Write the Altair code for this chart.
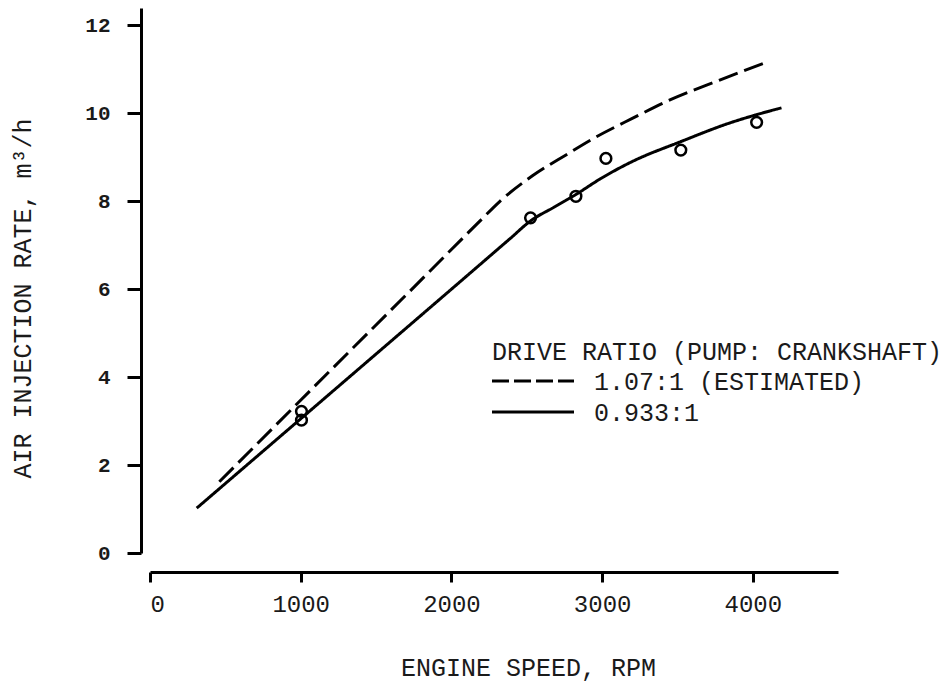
import altair as alt
import pandas as pd

# ---- data ----
solid_rpm = [310, 1200, 2390, 2525, 2680, 2830, 2985, 3200, 3520, 3850, 4030, 4190]
solid_rate = [1.02, 3.64, 7.15, 7.55, 7.86, 8.16, 8.50, 8.90, 9.35, 9.78, 9.97, 10.12]

dashed_rpm = [460, 1200, 1750, 2190, 2320, 2540, 2760, 2940, 3200, 3450, 3780, 4100]
dashed_rate = [1.62, 4.16, 6.04, 7.55, 7.99, 8.58, 9.05, 9.42, 9.88, 10.30, 10.75, 11.17]

obs_rpm = [1005, 1005, 2525, 2826, 3025, 3522, 4025]
obs_rate = [3.22, 3.02, 7.62, 8.11, 8.97, 9.16, 9.79]

series_names = ["1.07:1 (ESTIMATED)", "0.933:1"]
legend_title = "DRIVE RATIO (PUMP: CRANKSHAFT)"
x_ticks = [0, 1000, 2000, 3000, 4000]
y_ticks = [0, 2, 4, 6, 8, 10, 12]

FONT = "Liberation Mono"
INK = "#1a1a1a"

lines = pd.concat([
    pd.DataFrame({"rpm": dashed_rpm, "rate": dashed_rate, "ratio": series_names[0]}),
    pd.DataFrame({"rpm": solid_rpm, "rate": solid_rate, "ratio": series_names[1]}),
])
obs = pd.DataFrame({"rpm": obs_rpm, "rate": obs_rate})

x_scale = alt.Scale(domain=[0, 4565], nice=False, zero=False)
y_scale = alt.Scale(domain=[0, 12.39], nice=False, zero=False)
dash_scale = alt.Scale(domain=series_names, range=[[20, 7], [1, 0]])

x_axis = alt.Axis(
    values=x_ticks, format="d", grid=False, offset=19,
    domainColor="black", domainWidth=3, tickColor="black", tickWidth=3, tickSize=10,
    labelFont=FONT, labelFontSize=24, labelColor=INK, labelPadding=10,
    title="ENGINE SPEED, RPM", titleFont=FONT, titleFontSize=25, titleFontWeight="normal",
    titleColor=INK, titleX=378, titleY=95, titleAlign="center", titleBaseline="middle",
)
y_axis = alt.Axis(
    values=y_ticks, format="d", grid=False, offset=9,
    domainColor="black", domainWidth=3, tickColor="black", tickWidth=3, tickSize=14,
    labelFont=FONT, labelFontSize=21, labelFontWeight="bold", labelColor=INK, labelPadding=17,
    title="AIR INJECTION RATE, m³/h", titleFont=FONT, titleFontSize=25, titleFontWeight="normal",
    titleColor=INK, titleAngle=270, titleX=-119, titleY=290, titleAlign="center",
    titleBaseline="middle",
)

line_layer = alt.Chart(lines).mark_line(color="black", strokeWidth=3, interpolate="monotone").encode(
    x=alt.X("rpm:Q", scale=x_scale, axis=x_axis),
    y=alt.Y("rate:Q", scale=y_scale, axis=y_axis),
    strokeDash=alt.StrokeDash("ratio:N", scale=dash_scale, legend=None),
)

point_layer = alt.Chart(obs).mark_point(
    shape="circle", filled=False, color="black", strokeWidth=2.5, size=115, opacity=1
).encode(
    x=alt.X("rpm:Q", scale=x_scale),
    y=alt.Y("rate:Q", scale=y_scale),
)

# ---- legend drawn as an annotation block ----
LEG_FS = 25
leg_title = alt.Chart(pd.DataFrame({"t": [legend_title]})).mark_text(
    font=FONT, fontSize=LEG_FS, color=INK, align="left", baseline="middle"
).encode(text="t:N", x=alt.value(342), y=alt.value(344))

leg_lines = pd.DataFrame({"ratio": series_names, "row": [0, 1]})
leg_sample_dash = alt.Chart(leg_lines[leg_lines.row == 0]).mark_rule(
    color="black", strokeWidth=3, strokeDash=[17, 5]
).encode(x=alt.value(342), x2=alt.value(424), y=alt.value(373))
leg_sample_solid = alt.Chart(leg_lines[leg_lines.row == 1]).mark_rule(
    color="black", strokeWidth=3
).encode(x=alt.value(342), x2=alt.value(424), y=alt.value(404))
leg_text0 = alt.Chart(leg_lines[leg_lines.row == 0]).mark_text(
    font=FONT, fontSize=LEG_FS, color=INK, align="left", baseline="middle"
).encode(text="ratio:N", x=alt.value(444), y=alt.value(374))
leg_text1 = alt.Chart(leg_lines[leg_lines.row == 1]).mark_text(
    font=FONT, fontSize=LEG_FS, color=INK, align="left", baseline="middle"
).encode(text="ratio:N", x=alt.value(444), y=alt.value(405))

chart = alt.layer(
    line_layer, point_layer, leg_title, leg_sample_dash, leg_sample_solid, leg_text0, leg_text1
).properties(
    width=688, height=545,
    autosize=alt.AutoSizeParams(type="none"),
    padding={"left": 150, "top": 8, "right": 107, "bottom": 130},
    background="white",
).configure_view(strokeWidth=0)

chart.save("out.html", embed_options={"renderer": "svg", "actions": False})
